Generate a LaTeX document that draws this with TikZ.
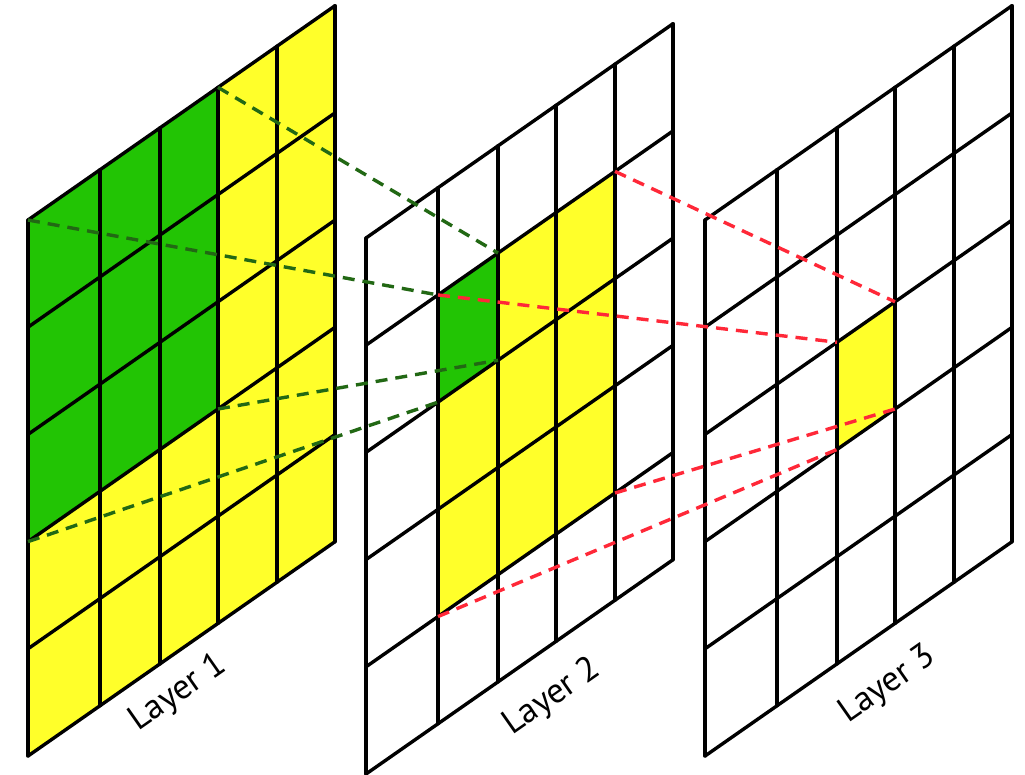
\documentclass[tikz,border=0pt]{standalone}
\usepackage{fontspec}
\setmainfont{PT Sans}
\definecolor{cellyellow}{RGB}{255,255,42}
\definecolor{cellgreen}{RGB}{34,196,4}
\definecolor{dashgreen}{RGB}{34,104,20}
\definecolor{dashred}{RGB}{255,40,56}
\tikzset{
  gridline/.style={line width=3.4pt, line cap=round, line join=round, black},
  greenlink/.style={line width=3.4pt, dashgreen, dash pattern=on 12pt off 8pt},
  redlink/.style={line width=3.4pt, dashred, dash pattern=on 12pt off 8pt},
  layerlabel/.style={font=\fontsize{35}{40}\selectfont, rotate=35, inner sep=0pt}
}
\begin{document}
\begin{tikzpicture}[x=1pt,y=-1pt]
\useasboundingbox (0,0) rectangle (1025,774);
% grid points
\foreach \l/\X/\Y in {1/28/220, 2/366/238, 3/705/220}{
  \foreach \c [count=\i from 0] in {0,72,132,190,249,307}{
    \foreach \j in {0,...,5}{
      \coordinate (L\l-\i-\j) at ({\X+\c},{\Y+\j*107.2-0.698*\c});
    }
  }
}
% fills
\fill[cellyellow] (L1-0-0) -- (L1-5-0) -- (L1-5-5) -- (L1-0-5) -- cycle;
\fill[cellgreen] (L1-0-0) -- (L1-3-0) -- (L1-3-3) -- (L1-0-3) -- cycle;
\fill[white] (L2-0-0) -- (L2-5-0) -- (L2-5-5) -- (L2-0-5) -- cycle;
\fill[cellyellow] (L2-1-1) -- (L2-4-1) -- (L2-4-4) -- (L2-1-4) -- cycle;
\fill[cellgreen] (L2-1-1) -- (L2-2-1) -- (L2-2-2) -- (L2-1-2) -- cycle;
\fill[cellyellow] (L3-2-2) -- (L3-3-2) -- (L3-3-3) -- (L3-2-3) -- cycle;
% grid lines
\foreach \l in {1,2,3}{
  \foreach \k in {0,...,5}{
    \draw[gridline] (L\l-\k-0) -- (L\l-\k-5);
    \draw[gridline] (L\l-0-\k) -- (L\l-5-\k);
  }
}
% links
\draw[greenlink] (L1-3-0) -- (L2-2-1);
\draw[greenlink] (L1-0-0) -- (L2-1-1);
\draw[greenlink] (L1-3-3) -- (L2-2-2);
\draw[greenlink] (L1-0-3) -- (L2-1-2);
\draw[redlink] (L2-4-1) -- (L3-3-2);
\draw[redlink] (L2-1-1) -- (L3-2-2);
\draw[redlink] (L2-4-4) -- (L3-3-3);
\draw[redlink] (L2-1-4) -- (L3-2-3);
% labels
\node[layerlabel] (lab1) at (178,693) {Layer 1};
\node[layerlabel] (lab2) at (552,697) {Layer 2};
\node[layerlabel] (lab3) at (888,685) {Layer 3};
\end{tikzpicture}
\end{document}
